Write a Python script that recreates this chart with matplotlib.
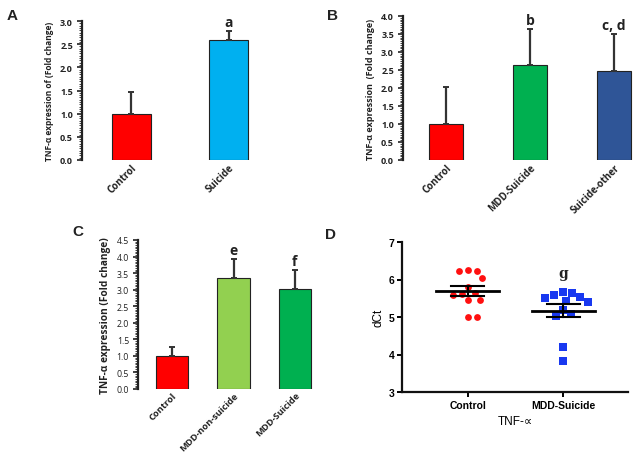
import numpy as np
import matplotlib
matplotlib.use("Agg")
import matplotlib.pyplot as plt
from matplotlib.ticker import MultipleLocator, FormatStrFormatter

# ---------------- data ----------------
a_cats = ["Control", "Suicide"]
a_vals = [1.0, 2.58]
a_err_top = [1.46, 2.78]
a_sig = ["", "a"]
a_colors = ["#FF0000", "#00B0F0"]

b_cats = ["Control", "MDD-Suicide", "Suicide-other"]
b_vals = [1.0, 2.65, 2.48]
b_err_top = [2.02, 3.65, 3.50]
b_sig = ["", "b", "c, d"]
b_colors = ["#FF0000", "#00B050", "#2F5597"]

c_cats = ["Control", "MDD-non-suicide", "MDD-Suicide"]
c_vals = [1.0, 3.35, 3.02]
c_err_top = [1.28, 3.92, 3.60]
c_sig = ["", "e", "f"]
c_colors = ["#FF0000", "#92D050", "#00B050"]

d_cats = ["Control", "MDD-Suicide"]
d_control = [6.25, 6.23, 6.22, 6.04, 5.80, 5.65, 5.62, 5.60, 5.45, 5.45, 5.00, 5.00]
d_mdd = [5.66, 5.64, 5.59, 5.53, 5.52, 5.43, 5.39, 5.18, 5.07, 5.04, 4.19, 3.84]
d_sig = ["", "g"]

W, H = 639, 456
fig = plt.figure(figsize=(W / 100, H / 100), dpi=100)

BAR_FONT = "Open Sans"


def px_axes(l, r, b, t):
    return fig.add_axes([l / W, 1 - b / H, (r - l) / W, (b - t) / H])


def bar_panel(ax, cats, vals, tops, sig, colors, width, xlim, ymax, ylabel,
              ylabel_size, tick_size, xtick_size, tick_weight="bold"):
    x = np.arange(len(cats))
    err = [np.zeros(len(vals)), np.array(tops) - np.array(vals)]
    ax.bar(x, vals, width=width, color=colors, edgecolor="#222222", linewidth=0.8,
           yerr=err, error_kw=dict(ecolor="#333333", elinewidth=1.6, capsize=2.2,
                                   capthick=1.4), zorder=2)
    for xi, t, s in zip(x, tops, sig):
        if s:
            ax.annotate(s, xy=(xi, t), xytext=(0, 1.5), textcoords="offset points",
                        ha="center", va="bottom", fontsize=10, fontweight="bold",
                        family="Open Sans", color="#222222")
    ax.set_xlim(*xlim)
    ax.set_ylim(0, ymax)
    for s in ["top", "right", "bottom"]:
        ax.spines[s].set_visible(False)
    ax.spines["left"].set_linewidth(1.6)
    ax.spines["left"].set_color("#222222")
    ax.yaxis.set_major_locator(MultipleLocator(0.5))
    ax.yaxis.set_minor_locator(MultipleLocator(0.05))
    ax.yaxis.set_major_formatter(FormatStrFormatter("%.1f"))
    ax.tick_params(axis="y", which="major", direction="out", length=3.5, width=1.2,
                   labelsize=tick_size, pad=3, colors="#222222")
    ax.tick_params(axis="y", which="minor", direction="out", length=2.5, width=0.6,
                   colors="#222222")
    ax.tick_params(axis="x", length=0, pad=1)
    ax.set_xticks(x)
    ax.set_xticklabels(cats, rotation=45, ha="right", rotation_mode="anchor",
                       fontsize=xtick_size, fontweight="bold", family=BAR_FONT,
                       color="#222222")
    for lab in ax.get_yticklabels():
        lab.set_family(BAR_FONT)
        lab.set_fontweight(tick_weight)
    ax.set_ylabel(ylabel, fontsize=ylabel_size, fontweight="bold", family=BAR_FONT,
                  color="#222222", labelpad=4)


# Panel A
axA = px_axes(82, 278, 161, 22)
bar_panel(axA, a_cats, a_vals, a_err_top, a_sig, a_colors, 0.40, (-0.51, 1.51), 3.0,
          "TNF-α expression of (Fold change)", 6.0, 6.5, 7.0)

# Panel B
axB = px_axes(403, 635, 161, 17)
bar_panel(axB, b_cats, b_vals, b_err_top, b_sig, b_colors, 0.405, (-0.512, 2.25), 4.0,
          "TNF-α expression  (Fold change)", 6.5, 6.5, 7.0)

# Panel C
axC = px_axes(138, 329, 390, 241)
bar_panel(axC, c_cats, c_vals, c_err_top, c_sig, c_colors, 0.525, (-0.557, 2.557), 4.5,
          "TNF-α expression (Fold change)", 7.3, 6.3, 6.7, tick_weight="normal")

# Panel D
axD = px_axes(402, 628, 393, 243)
axD.set_xlim(-0.687, 1.675)
axD.set_ylim(3, 7)
fig.canvas.draw()


def swarm(ax, xc, values, dmin_px=9.0):
    placed = []
    xs = []
    for v in values:
        cx, py = ax.transData.transform((xc, v))
        cands = [0.0]
        for k in range(1, 200):
            cands += [k * 0.5, -k * 0.5]
        for c in cands:
            if all((c - p0) ** 2 + (py - p1) ** 2 >= dmin_px ** 2 for p0, p1 in placed):
                break
        placed.append((c, py))
        xs.append(ax.transData.inverted().transform((cx + c, py))[0])
    return xs


groups = [d_control, d_mdd]
markers = ["o", "s"]
mcolors = ["#FF1010", "#1838F0"]
for i, (vals, m, col) in enumerate(zip(groups, markers, mcolors)):
    xs = swarm(axD, i, vals)
    axD.scatter(xs, vals, marker=m, s=24 if m == "o" else 26, color=col, zorder=2,
                linewidths=0)
    arr = np.array(vals)
    mean = arr.mean()
    sem = arr.std(ddof=1) / np.sqrt(len(arr))
    axD.plot([i - 0.33, i + 0.33], [mean, mean], color="black", lw=2.0, zorder=3)
    axD.plot([i, i], [mean - sem, mean + sem], color="black", lw=1.5, zorder=3)
    for yy in (mean - sem, mean + sem):
        axD.plot([i - 0.17, i + 0.17], [yy, yy], color="black", lw=1.5, zorder=3)

axD.annotate(d_sig[1], xy=(1, max(d_mdd)), xytext=(0, 9), textcoords="offset points",
             ha="center", va="bottom", fontsize=10, fontweight="bold",
             family="DejaVu Serif", color="#222222")

for s in ["top", "right"]:
    axD.spines[s].set_visible(False)
for s in ["left", "bottom"]:
    axD.spines[s].set_linewidth(1.6)
    axD.spines[s].set_color("#111111")
axD.set_xticks([0, 1])
axD.set_xticklabels(d_cats, fontsize=7.5, fontweight="bold", family="Liberation Sans")
axD.set_yticks([3, 4, 5, 6, 7])
axD.set_yticklabels(["3", "4", "5", "6", "7"], fontsize=7.5, fontweight="bold",
                    family="Liberation Sans")
axD.tick_params(direction="out", length=3.5, width=1.4, pad=2)
axD.set_ylabel("dCt", fontsize=8.5, family="Liberation Sans", labelpad=3)
axD.set_xlabel("TNF-∝", fontsize=8.5, family=["Liberation Sans", "DejaVu Sans"],
               labelpad=4)

# panel letters
for lbl, (px, py) in zip("ABCD", [(12, 16), (333, 16), (78, 232), (331, 235)]):
    fig.text(px / W, 1 - py / H, lbl, fontsize=11, fontweight="bold",
             family="Liberation Sans", ha="center", va="center", color="#222222")

fig.savefig("out.png", dpi=100)
